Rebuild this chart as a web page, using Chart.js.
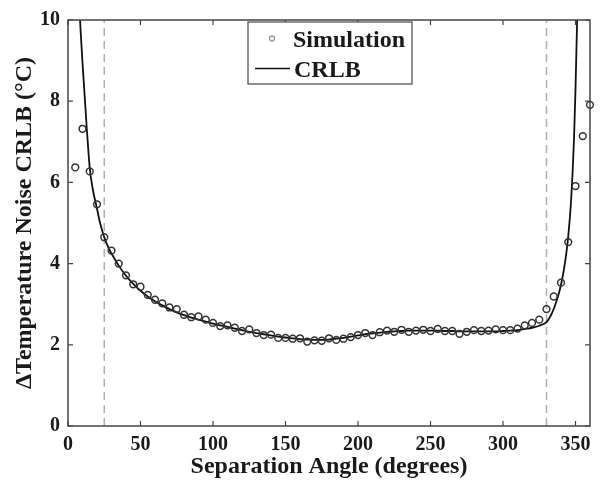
<!DOCTYPE html>
<html><head><meta charset="utf-8">
<script src="https://cdn.jsdelivr.net/npm/chart.js@4/dist/chart.umd.min.js"></script>
<style>html,body{margin:0;padding:0;background:#fff}#wrap{width:601px;height:487px}</style>
</head><body><div id="wrap"><canvas id="c" width="601" height="487"></canvas></div>
<script>
// ---- data ----
const simAngles = [5,10,15,20,25,30,35,40,45,50,55,60,65,70,75,80,85,90,95,100,105,110,115,120,125,130,135,140,145,150,155,160,165,170,175,180,185,190,195,200,205,210,215,220,225,230,235,240,245,250,255,260,265,270,275,280,285,290,295,300,305,310,315,320,325,330,335,340,345,350,355,360];
const simValues = [6.37,7.32,6.27,5.46,4.65,4.32,4.00,3.71,3.49,3.43,3.23,3.11,3.02,2.92,2.88,2.74,2.68,2.70,2.62,2.54,2.46,2.48,2.42,2.34,2.38,2.29,2.24,2.25,2.17,2.17,2.15,2.16,2.08,2.11,2.10,2.16,2.12,2.15,2.19,2.24,2.29,2.24,2.31,2.35,2.32,2.37,2.32,2.35,2.37,2.34,2.39,2.34,2.34,2.27,2.32,2.36,2.34,2.35,2.38,2.36,2.36,2.40,2.48,2.54,2.62,2.88,3.19,3.53,4.53,5.91,7.14,7.91];
const crlbAngles = [7,8,9,10,11,12,13,14,15,17,20,22,25,28,30,35,40,45,50,55,60,65,70,75,80,85,90,95,100,105,110,115,120,125,130,135,140,145,150,155,160,165,170,175,180,185,190,195,200,205,210,215,220,225,230,235,240,245,250,255,260,265,270,275,280,285,290,295,300,305,310,315,320,325,330,332,334,336,338,340,342,344,345,346,347,348,349,350,351,352];
const crlbValues = [11.0,10.2,9.55,8.95,8.4,7.85,7.3,6.8,6.35,5.85,5.35,5.02,4.65,4.38,4.25,3.95,3.70,3.50,3.33,3.19,3.07,2.97,2.88,2.80,2.73,2.67,2.62,2.57,2.52,2.48,2.44,2.40,2.36,2.32,2.29,2.26,2.23,2.20,2.18,2.16,2.14,2.13,2.12,2.12,2.13,2.15,2.17,2.20,2.23,2.26,2.28,2.30,2.32,2.33,2.34,2.35,2.35,2.35,2.35,2.35,2.34,2.34,2.33,2.33,2.33,2.33,2.33,2.33,2.34,2.35,2.36,2.39,2.42,2.47,2.56,2.66,2.80,2.98,3.20,3.48,3.85,4.35,4.68,5.08,5.58,6.25,7.10,8.30,9.80,11.6];
const markerAngles = [25, 330];
const markerRange = [0, 10];
const xTickValues = [0,50,100,150,200,250,300,350];
const yTickValues = [0,2,4,6,8,10];
const xTitle = 'Separation Angle (degrees)';
const yTitle = '\u0394Temperature Noise CRLB (\u00B0C)';
const legendLabels = ['Simulation', 'CRLB'];

const FONT = "'Liberation Serif','Times New Roman',serif";
const TXT = '#1a1a1a';

const markerSets = markerAngles.map(a => ({
  type: 'line',
  data: markerRange.map(v => ({x: a, y: v})),
  borderColor: '#b0b0b0', borderWidth: 1.5, borderDash: [8, 5],
  pointRadius: 0, order: 5
}));

const framePlugin = {
  id: 'frame',
  afterDraw(chart) {
    const ctx = chart.ctx, a = chart.chartArea;
    const xs = chart.scales.x, ys = chart.scales.y;
    ctx.save();
    ctx.strokeStyle = '#444'; ctx.lineWidth = 1.5;
    ctx.strokeRect(a.left, a.top, a.right - a.left, a.bottom - a.top);
    ctx.lineWidth = 1.2;
    const L = 5;
    ctx.beginPath();
    xTickValues.forEach(v => {
      const px = xs.getPixelForValue(v);
      ctx.moveTo(px, a.bottom); ctx.lineTo(px, a.bottom - L);
      ctx.moveTo(px, a.top); ctx.lineTo(px, a.top + L);
    });
    yTickValues.forEach(v => {
      const py = ys.getPixelForValue(v);
      ctx.moveTo(a.left, py); ctx.lineTo(a.left + L, py);
      ctx.moveTo(a.right, py); ctx.lineTo(a.right - L, py);
    });
    ctx.stroke();
    // legend
    const bx = 248, by = 22, bw = 164, bh = 62;
    ctx.fillStyle = '#fff';
    ctx.fillRect(bx, by, bw, bh);
    ctx.strokeStyle = '#555'; ctx.lineWidth = 1.3;
    ctx.strokeRect(bx, by, bw, bh);
    ctx.fillStyle = TXT;
    ctx.font = 'bold 24px ' + FONT;
    ctx.textBaseline = 'alphabetic'; ctx.textAlign = 'left';
    ctx.fillText(legendLabels[0], 293, 47);
    ctx.fillText(legendLabels[1], 294, 77);
    ctx.beginPath();
    ctx.strokeStyle = '#999'; ctx.lineWidth = 1.3;
    ctx.arc(272, 38.5, 2.5, 0, Math.PI * 2);
    ctx.stroke();
    ctx.beginPath();
    ctx.strokeStyle = '#111'; ctx.lineWidth = 1.6;
    ctx.moveTo(255, 68.5); ctx.lineTo(290, 68.5);
    ctx.stroke();
    ctx.restore();
  }
};

new Chart(document.getElementById('c'), {
  type: 'scatter',
  data: {
    datasets: [
      {
        type: 'scatter', label: legendLabels[0],
        data: simAngles.map((a, i) => ({x: a, y: simValues[i]})),
        pointRadius: 3.4, pointBorderWidth: 1.5, pointBorderColor: '#333',
        pointBackgroundColor: 'rgba(0,0,0,0)', order: 0, clip: false
      },
      {
        type: 'line', label: legendLabels[1],
        data: crlbAngles.map((a, i) => ({x: a, y: crlbValues[i]})),
        borderColor: '#111', borderWidth: 1.8, pointRadius: 0,
        cubicInterpolationMode: 'monotone', order: 1
      },
      ...markerSets
    ]
  },
  options: {
    responsive: false, animation: false, devicePixelRatio: 1,
    layout: {padding: {top: 15, right: 11, left: 0, bottom: 0}},
    plugins: {legend: {display: false}, tooltip: {enabled: false}},
    scales: {
      x: {
        type: 'linear', min: 0, max: 360,
        afterBuildTicks: s => { s.ticks = xTickValues.map(v => ({value: v})); },
        afterFit: s => { s.height = 61; },
        grid: {display: false, drawTicks: false}, border: {display: false},
        ticks: {padding: 7, color: TXT, autoSkip: false, maxRotation: 0,
                font: {family: FONT, weight: 'bold', size: 20}},
        title: {display: true, text: xTitle, color: TXT,
                font: {family: FONT, weight: 'bold', size: 24}, padding: {top: 0, bottom: 6}}
      },
      y: {
        type: 'linear', min: 0, max: 10,
        afterBuildTicks: s => { s.ticks = yTickValues.map(v => ({value: v})); },
        afterFit: s => { s.width = 68; },
        grid: {display: false, drawTicks: false}, border: {display: false},
        ticks: {padding: 8, color: TXT, autoSkip: false,
                font: {family: FONT, weight: 'bold', size: 20}},
        title: {display: true, text: yTitle, color: TXT,
                font: {family: FONT, weight: 'bold', size: 24}, padding: {top: 10, bottom: 0}}
      }
    }
  },
  plugins: [framePlugin]
});
</script>
</body></html>
